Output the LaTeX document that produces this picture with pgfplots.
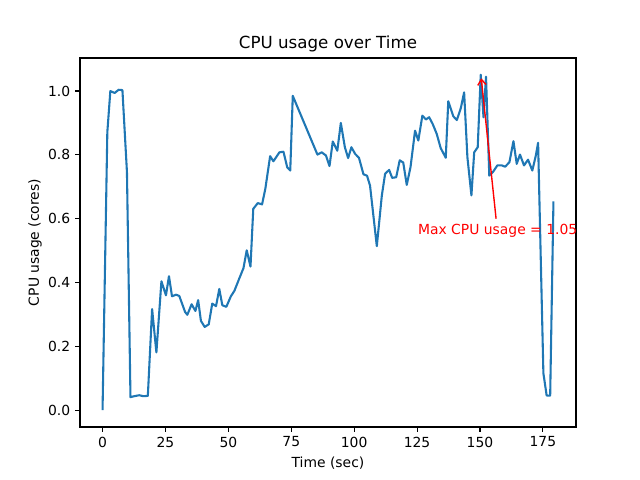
\documentclass[border=0pt]{standalone}
\usepackage{pgfplots}
\pgfplotsset{compat=1.18}
\usetikzlibrary{arrows.meta}
\usepackage{fontspec}
\setmainfont{DejaVu Sans}
\definecolor{mplblue}{HTML}{1F77B4}
\begin{document}
\begin{tikzpicture}
\path[use as bounding box] (-57.6pt,-38.16pt) rectangle (403.2pt,307.44pt);
\begin{axis}[
  at={(0,0)}, anchor=south west,
  scale only axis, width=357.12pt, height=265.68pt,
  xmin=-8.96, xmax=188.16, ymin=-0.05255, ymax=1.10355,
  xtick={0,25,50,75,100,125,150,175},
  ytick={0,0.2,0.4,0.6,0.8,1.0},
  yticklabel style={/pgf/number format/.cd, fixed, fixed zerofill, precision=1},
  /pgf/number format/assume math mode=true,
  tick align=outside, tick pos=left,
  major tick length=3.5pt,
  tick style={black, line width=0.8pt},
  axis line style={line width=0.8pt},
  ticklabel style={font=\fontsize{10}{12}\selectfont},
  title={CPU usage over Time},
  title style={font=\fontsize{12}{14}\selectfont, at={(axis description cs:0.5,1)}, anchor=base, yshift=1pt},
  xlabel={Time (sec)},
  ylabel={CPU usage (cores)},
  xlabel style={font=\fontsize{10}{12}\selectfont, at={(axis description cs:0.5,0)}, anchor=center, yshift=-26pt},
  ylabel style={font=\fontsize{10}{12}\selectfont, at={(axis description cs:-0.0907,0.5)}, anchor=center},
  clip=false,
]
\addplot[mplblue, line width=1.5pt, line join=round, mark=none] coordinates {
(0,0) (1.9,0.871) (3.1,1.000) (4.8,0.994) (6.4,1.004) (7.9,1.003) (9.7,0.746)
(11.1,0.041) (12.6,0.044) (14.6,0.047) (16.2,0.044) (18.0,0.045) (19.7,0.317)
(21.4,0.181) (23.4,0.404) (25.2,0.360) (26.4,0.420) (27.6,0.357) (29.2,0.362)
(30.5,0.358) (32.8,0.308) (33.7,0.299) (35.4,0.332) (36.9,0.311) (38.0,0.345)
(39.1,0.280) (40.6,0.261) (42.2,0.269) (43.6,0.334) (45.1,0.326) (46.4,0.380)
(47.6,0.329) (49.2,0.324) (51.0,0.357) (52.4,0.374) (54.3,0.412) (56.0,0.445)
(57.3,0.501) (58.8,0.450) (59.9,0.631) (61.7,0.649) (63.4,0.645) (64.7,0.694)
(66.6,0.796) (67.9,0.780) (70.3,0.808) (71.9,0.810) (73.4,0.761) (74.6,0.751)
(75.6,0.985) (85.4,0.801) (87.1,0.808) (88.8,0.798) (90.2,0.765) (91.5,0.842)
(93.3,0.813) (94.7,0.900) (96.3,0.824) (97.6,0.790) (98.9,0.824) (100.4,0.803)
(101.9,0.791) (103.7,0.739) (105.1,0.735) (106.3,0.704) (109.0,0.514) (111.0,0.673)
(112.3,0.741) (113.9,0.753) (115.1,0.728) (116.7,0.730) (118.1,0.783) (119.5,0.776)
(120.9,0.706) (122.4,0.762) (124.2,0.876) (125.5,0.845) (127.1,0.923) (128.5,0.911)
(129.8,0.918) (131.2,0.897) (132.8,0.866) (134.4,0.821) (136.4,0.791) (137.4,0.968)
(139.4,0.921) (140.8,0.909) (142.4,0.947) (143.7,0.996) (145.0,0.793) (146.6,0.673)
(147.7,0.808) (149.1,0.824) (150.3,1.051) (151.4,0.918) (152.4,1.045) (153.7,0.735)
(155.3,0.748) (156.9,0.767) (158.7,0.767) (160.0,0.763) (161.7,0.777) (163.3,0.843)
(164.6,0.772) (165.9,0.801) (167.5,0.767) (169.1,0.785) (170.8,0.751) (172.2,0.798)
(173.1,0.838) (175.2,0.116) (176.5,0.046) (177.9,0.046) (179.2,0.654)
};
\draw[red, line width=1pt, -{Straight Barb[length=4pt,width=6pt]}] (axis cs:156.4,0.60) -- (axis cs:150.5,1.04);
\node[red, anchor=base west, inner sep=0pt, font=\fontsize{10}{12}\selectfont] at (axis cs:125.3,0.55) {Max CPU usage = 1.05};
\end{axis}
\end{tikzpicture}
\end{document}
